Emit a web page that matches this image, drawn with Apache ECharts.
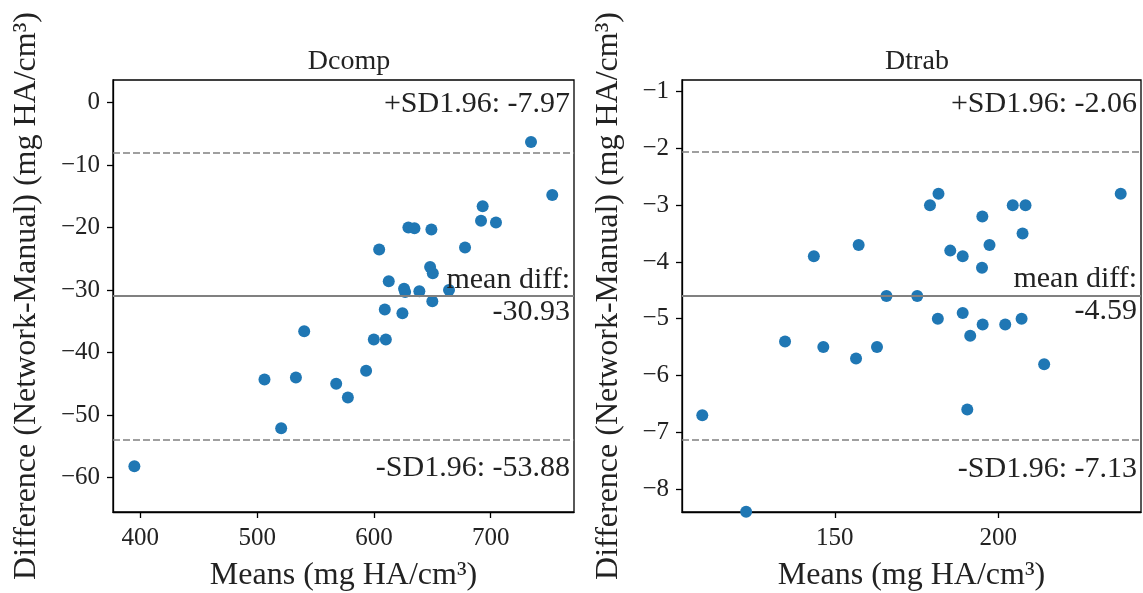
<!DOCTYPE html>
<html>
<head>
<meta charset="utf-8">
<script src="https://cdn.jsdelivr.net/npm/echarts@6/dist/echarts.min.js"></script>
<style>
html,body{margin:0;padding:0;background:#fff;}
#chart{width:1143px;height:593px;}
</style>
</head>
<body>
<div id="chart"></div>
<script>
// ---- Data ----
const titles = ['Dcomp', 'Dtrab'];
const xLabel = 'Means (mg HA/cm³)';
const yLabel = 'Difference (Network-Manual) (mg HA/cm³)';

const dcompMeans = [734.5, 752.7, 693.1, 691.7, 704.5, 629.5, 634.7, 649.2, 604.5, 678.0,
  648.1, 650.4, 612.7, 625.8, 626.7, 638.9, 664.3, 650.0, 609.3, 624.4,
  540.3, 599.9, 610.2, 593.3, 506.3, 533.2, 567.7, 577.7, 520.6, 394.9];
const dcompDiffs = [-6.3, -14.8, -16.6, -18.9, -19.2, -20.0, -20.1, -20.3, -23.5, -23.2,
  -26.3, -27.3, -28.6, -29.8, -30.3, -30.2, -30.0, -31.8, -33.1, -33.7,
  -36.6, -37.9, -37.9, -42.9, -44.3, -44.0, -45.0, -47.2, -52.1, -58.2];
const dcompStats = {upper: -7.97, mean: -30.93, lower: -53.88};

const dtrabMeans = [237.4, 181.7, 179.1, 204.4, 208.3, 195.1, 207.4, 157.3, 197.3, 143.6,
  185.3, 189.1, 195.0, 165.8, 175.2, 181.5, 189.1, 195.2, 202.1, 207.1,
  191.4, 134.8, 146.5, 162.9, 156.5, 214.0, 190.5, 109.5, 122.9];
const dtrabDiffs = [-2.8, -2.8, -3.0, -3.0, -3.0, -3.2, -3.5, -3.7, -3.7, -3.9,
  -3.8, -3.9, -4.1, -4.6, -4.6, -5.0, -4.9, -5.1, -5.1, -5.0,
  -5.3, -5.4, -5.5, -5.5, -5.7, -5.8, -6.6, -6.7, -8.4];
const dtrabStats = {upper: -2.06, mean: -4.59, lower: -7.13};

const dcompXTicks = [400, 500, 600, 700];
const dcompYTicks = [0, -10, -20, -30, -40, -50, -60];
const dtrabXTicks = [150, 200];
const dtrabYTicks = [-1, -2, -3, -4, -5, -6, -7, -8];

const dcompXRange = [376.6, 771.3], dcompYRange = [-65.5, 3.6];
const dtrabXRange = [103.3, 243.6], dtrabYRange = [-8.405, -0.794];

// ---- Chart ----
const FONT = '"Liberation Serif", "DejaVu Serif", serif';
const TXT = '#222';
const fmtMinus = v => String(v).replace('-', '\u2212');
const chart = echarts.init(document.getElementById('chart'), null, {renderer: 'canvas'});

const grids = [
  {left: 113, top: 80, width: 461, height: 432},
  {left: 682, top: 80, width: 459, height: 432}
];

function xAxis(idx, range, ticks) {
  return {
    type: 'value', gridIndex: idx, min: range[0], max: range[1],
    name: xLabel, nameLocation: 'middle', nameGap: 48,
    nameTextStyle: {fontFamily: FONT, fontSize: 32, color: TXT},
    axisLine: {show: true, onZero: false, lineStyle: {color: '#000', width: 1.3}},
    axisTick: {show: true, inside: false, length: 6, customValues: ticks, lineStyle: {color: '#000', width: 1.3}},
    axisLabel: {customValues: ticks, formatter: fmtMinus, fontFamily: FONT, fontSize: 25, color: TXT, margin: 14},
    splitLine: {show: false}
  };
}
function yAxis(idx, range, ticks, gap) {
  return {
    type: 'value', gridIndex: idx, min: range[0], max: range[1],
    name: yLabel, nameLocation: 'middle', nameGap: gap, nameRotate: 90,
    nameTextStyle: {fontFamily: FONT, fontSize: 32, color: TXT},
    axisLine: {show: true, onZero: false, lineStyle: {color: '#000', width: 1.3}},
    axisTick: {show: true, inside: false, length: 6, customValues: ticks, lineStyle: {color: '#000', width: 1.3}},
    axisLabel: {customValues: ticks, formatter: fmtMinus, fontFamily: FONT, fontSize: 25, color: TXT, margin: 13},
    splitLine: {show: false}
  };
}

function seriesFor(idx, xs, ys, stats) {
  const pts = xs.map((x, i) => [x, ys[i]]);
  const lbl = {fontFamily: FONT, fontSize: 30, color: TXT};
  return {
    type: 'scatter', xAxisIndex: idx, yAxisIndex: idx,
    data: pts, symbolSize: 12,
    itemStyle: {color: '#1f77b4', opacity: 1},
    silent: true,
    markLine: {
      silent: true, symbol: 'none', animation: false,
      data: [
        {yAxis: stats.upper, lineStyle: {type: [7, 3], color: '#808080', width: 1.6},
          label: Object.assign({show: true, position: 'insideEndTop', distance: [4, 33],
            formatter: '+SD1.96: ' + stats.upper.toFixed(2)}, lbl)},
        {yAxis: stats.mean, lineStyle: {type: 'solid', color: '#808080', width: 2},
          label: Object.assign({show: true, position: 'insideEnd', distance: 4, lineHeight: 32,
            align: 'right', verticalAlign: 'middle',
            formatter: 'mean diff:\n' + stats.mean.toFixed(2)}, lbl)},
        {yAxis: stats.lower, lineStyle: {type: [7, 3], color: '#808080', width: 1.6},
          label: Object.assign({show: true, position: 'insideEndBottom', distance: [4, 14],
            formatter: '-SD1.96: ' + stats.lower.toFixed(2)}, lbl)}
      ]
    }
  };
}

chart.setOption({
  animation: false,
  backgroundColor: '#fff',
  title: [
    {text: titles[0], left: 344, top: 43, textAlign: 'center', textStyle: {fontFamily: FONT, fontSize: 28, fontWeight: 'normal', color: TXT}},
    {text: titles[1], left: 912, top: 43, textAlign: 'center', textStyle: {fontFamily: FONT, fontSize: 28, fontWeight: 'normal', color: TXT}}
  ],
  grid: grids.map(g => Object.assign({show: true, borderColor: '#000', borderWidth: 1.3, backgroundColor: 'transparent', containLabel: false, outerBoundsMode: 'none'}, g)),
  xAxis: [xAxis(0, dcompXRange, dcompXTicks), xAxis(1, dtrabXRange, dtrabXTicks)],
  yAxis: [yAxis(0, dcompYRange, dcompYTicks, 70), yAxis(1, dtrabYRange, dtrabYTicks, 57)],
  series: [
    seriesFor(0, dcompMeans, dcompDiffs, dcompStats),
    seriesFor(1, dtrabMeans, dtrabDiffs, dtrabStats)
  ]
});
</script>
</body>
</html>
